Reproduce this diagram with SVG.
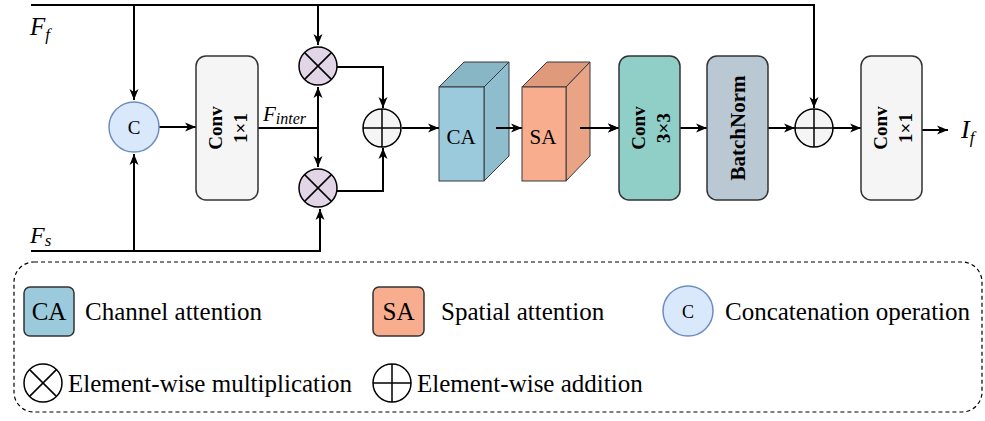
<svg xmlns="http://www.w3.org/2000/svg" width="985" height="421" viewBox="0 0 985 421" font-family="Liberation Serif, serif">
<style>
  .ln { fill: none; stroke: #000; stroke-width: 2; }
  .box { stroke: #333; stroke-width: 1.5; }
  .op { stroke: #000; stroke-width: 1.5; }
</style>
<defs>
  <marker id="arr" markerUnits="userSpaceOnUse" markerWidth="12" markerHeight="10" refX="11" refY="5" orient="auto">
    <path d="M0,0.5 L11,5 L0,9.5 L3,5 z" fill="#000"/>
  </marker>
</defs>
<rect width="985" height="421" fill="#fff"/>

<g id="connectors">
  <path class="ln" d="M31,5 H814 V108" marker-end="url(#arr)"/>
  <path class="ln" d="M134,5 V100" marker-end="url(#arr)"/>
  <path class="ln" d="M318,5 V45" marker-end="url(#arr)"/>
  <path class="ln" d="M159,127 H196" marker-end="url(#arr)"/>
  <path class="ln" d="M258,128 H318"/>
  <path class="ln" d="M318,128 V87" marker-end="url(#arr)"/>
  <path class="ln" d="M318,128 V167" marker-end="url(#arr)"/>
  <path class="ln" d="M31,251 H320 V209" marker-end="url(#arr)"/>
  <path class="ln" d="M134,251 V154" marker-end="url(#arr)"/>
  <path class="ln" d="M337,67 H383 V108" marker-end="url(#arr)"/>
  <path class="ln" d="M337,191 H383 V148" marker-end="url(#arr)"/>
  <path class="ln" d="M402,128 H439" marker-end="url(#arr)"/>
  <path class="ln" d="M580,128 H619" marker-end="url(#arr)"/>
  <path class="ln" d="M680,128 H707" marker-end="url(#arr)"/>
  <path class="ln" d="M768,128 H795" marker-end="url(#arr)"/>
  <path class="ln" d="M833,128 H861" marker-end="url(#arr)"/>
  <path class="ln" d="M922,130 H948" marker-end="url(#arr)"/>
</g>

<g id="label-Ff"><text font-family="Liberation Serif, serif" font-style="italic" x="30" y="35" font-size="25">F<tspan font-size="17" dy="5">f</tspan></text></g>
<g id="label-Fs"><text font-family="Liberation Serif, serif" font-style="italic" x="30" y="243" font-size="24">F<tspan font-size="17" dy="3">s</tspan></text></g>
<g id="label-Finter"><text font-family="Liberation Serif, serif" font-style="italic" x="263" y="121" font-size="21">F<tspan font-size="16" dy="3">inter</tspan></text></g>
<g id="label-If"><text font-family="Liberation Serif, serif" font-style="italic" x="961" y="138" font-size="26">I<tspan font-size="17" dy="5">f</tspan></text></g>

<g id="concat">
  <circle cx="134" cy="127" r="25" fill="#dae8fc" stroke="#6c8ebf" stroke-width="1.5"/>
  <text font-family="Liberation Serif, serif" x="134" y="134" font-size="19" text-anchor="middle">C</text>
</g>

<g id="conv1">
  <rect class="box" x="196" y="56" width="62" height="144" rx="10" fill="#f5f5f5"/>
  <g transform="translate(227,128) rotate(-90)">
    <text font-family="Liberation Serif, serif" font-weight="bold" x="0" y="-5" font-size="19" text-anchor="middle">Conv</text>
    <text font-family="Liberation Serif, serif" font-weight="bold" x="0" y="20" font-size="19" text-anchor="middle">1×1</text>
  </g>
</g>

<g id="mul-top">
  <circle class="op" cx="318" cy="66" r="19" fill="#e1d5e7"/>
  <path class="op" d="M304.6,52.6 L331.4,79.4 M331.4,52.6 L304.6,79.4"/>
</g>
<g id="mul-bottom">
  <circle class="op" cx="318" cy="188" r="19" fill="#e1d5e7"/>
  <path class="op" d="M304.6,174.6 L331.4,201.4 M331.4,174.6 L304.6,201.4"/>
</g>

<g id="add1">
  <circle class="op" cx="382" cy="128" r="19" fill="#f5f5f5"/>
  <path class="op" d="M363,128 H401 M382,109 V147"/>
</g>

<g id="ca">
  <polygon points="439,87 464,62 509,62 484,87" fill="#89b6c5" stroke="#36393d" stroke-width="1"/>
  <polygon points="484,87 509,62 509,156 484,181" fill="#8ebdce" stroke="#36393d" stroke-width="1"/>
  <rect x="439" y="87" width="45" height="94" fill="#9acadc" stroke="#36393d" stroke-width="1"/>
  <text font-family="Liberation Serif, serif" x="461" y="144" font-size="21" text-anchor="middle">CA</text>
</g>
<path class="ln" d="M496,128 H522" marker-end="url(#arr)"/>

<g id="sa">
  <polygon points="522,87 547,62 590,62 566,87" fill="#df9a7c" stroke="#36393d" stroke-width="1"/>
  <polygon points="566,87 590,62 590,156 566,181" fill="#e9a486" stroke="#36393d" stroke-width="1"/>
  <rect x="522" y="87" width="44" height="94" fill="#f8ae8e" stroke="#36393d" stroke-width="1"/>
  <text font-family="Liberation Serif, serif" x="543" y="144" font-size="21" text-anchor="middle">SA</text>
</g>
<path class="ln" d="M580,128 H619" marker-end="url(#arr)"/>

<g id="conv3">
  <rect class="box" x="619" y="56" width="61" height="144" rx="10" fill="#8fcfc7"/>
  <g transform="translate(649.5,128) rotate(-90)">
    <text font-family="Liberation Serif, serif" font-weight="bold" x="0" y="-5" font-size="19" text-anchor="middle">Conv</text>
    <text font-family="Liberation Serif, serif" font-weight="bold" x="0" y="20" font-size="19" text-anchor="middle">3×3</text>
  </g>
</g>

<g id="batchnorm">
  <rect class="box" x="707" y="56" width="61" height="144" rx="10" fill="#bac8d3"/>
  <g transform="translate(737.5,128) rotate(-90)">
    <text font-family="Liberation Serif, serif" font-weight="bold" x="0" y="7" font-size="21" text-anchor="middle">BatchNorm</text>
  </g>
</g>

<g id="add2">
  <circle class="op" cx="814" cy="128" r="19" fill="#f5f5f5"/>
  <path class="op" d="M795,128 H833 M814,109 V147"/>
</g>

<g id="conv1b">
  <rect class="box" x="861" y="56" width="61" height="144" rx="10" fill="#f5f5f5"/>
  <g transform="translate(891.5,128) rotate(-90)">
    <text font-family="Liberation Serif, serif" font-weight="bold" x="0" y="-5" font-size="19" text-anchor="middle">Conv</text>
    <text font-family="Liberation Serif, serif" font-weight="bold" x="0" y="20" font-size="19" text-anchor="middle">1×1</text>
  </g>
</g>

<g id="legend">
  <rect x="14" y="262" width="968" height="150" rx="20" fill="none" stroke="#000" stroke-width="1.2" stroke-dasharray="4 3"/>
  <rect class="box" x="24" y="287" width="50" height="49" rx="6" fill="#9acadc"/>
  <text font-family="Liberation Serif, serif" font-size="25" x="49" y="320" text-anchor="middle">CA</text>
  <text font-family="Liberation Serif, serif" font-size="25" x="85" y="320">Channel attention</text>
  <rect class="box" x="373" y="287" width="51" height="49" rx="6" fill="#f8ae8e"/>
  <text font-family="Liberation Serif, serif" font-size="25" x="398.5" y="320" text-anchor="middle">SA</text>
  <text font-family="Liberation Serif, serif" font-size="25" x="441" y="320">Spatial attention</text>
  <circle cx="688" cy="311" r="25" fill="#dae8fc" stroke="#6c8ebf" stroke-width="1.5"/>
  <text font-family="Liberation Serif, serif" x="688" y="318" font-size="18" text-anchor="middle">C</text>
  <text font-family="Liberation Serif, serif" font-size="25" x="725" y="320">Concatenation operation</text>
  <circle class="op" cx="43" cy="383" r="19" fill="#fff"/>
  <path class="op" d="M29.6,369.6 L56.4,396.4 M56.4,369.6 L29.6,396.4"/>
  <text font-family="Liberation Serif, serif" font-size="25" x="68" y="392">Element-wise multiplication</text>
  <circle class="op" cx="392" cy="383" r="19" fill="#fff"/>
  <path class="op" d="M373,383 H411 M392,364 V402"/>
  <text font-family="Liberation Serif, serif" font-size="25" x="417" y="392">Element-wise addition</text>
</g>
</svg>
